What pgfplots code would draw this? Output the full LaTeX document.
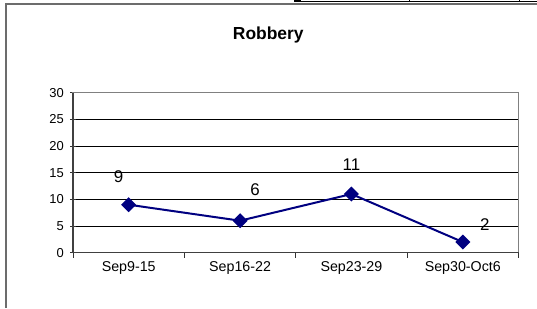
\documentclass[border=0pt]{standalone}
\usepackage{fontspec}
\setmainfont{Liberation Sans}
\usepackage{pgfplots}
\usepackage{pgfplotstable}
\pgfplotsset{compat=1.18}
\definecolor{navy}{RGB}{0,0,128}
\pgfplotstableread{
x y dx dy
0 9 -10 28
1 6 15 31
2 11 0 29
3 2 22 17
}\robbery
\begin{document}
\begin{tikzpicture}[x=1bp,y=1bp]
\useasboundingbox (0,0) rectangle (537,308);
% outer frame
\draw[gray!85!black, line width=2bp] (5.5,0) -- (5.5,304) -- (537,304);
% table fragment at the top
\fill[black] (294,306) rectangle (300.7,308);
\draw[black, line width=0.8bp] (294,306.6) -- (537,306.6);
\draw[black, line width=0.6bp] (409.3,306) -- (409.3,308) (519.3,306) -- (519.3,308);
\node[font=\bfseries\fontsize{17.5}{20}\selectfont] at (268.3,273) {Robbery};
\begin{axis}[
  at={(73bp,55.3bp)}, anchor=south west, scale only axis,
  width=445.5bp, height=160bp,
  xmin=-0.5, xmax=3.5, ymin=0, ymax=30,
  xtick={0,1,2,3},
  xticklabels={Sep9-15,Sep16-22,Sep23-29,Sep30-Oct6},
  major x tick style={draw=none},
  minor xtick={-0.5,0.5,1.5,2.5,3.5},
  ytick={0,5,...,30},
  xtick pos=bottom, ytick pos=left,
  ymajorgrids,
  grid style={black, line width=0.6bp},
  tick align=center,
  major tick length=5.5bp, minor tick length=5bp,
  minor x tick style={yshift=-2.5bp, black!80, line width=1bp},
  major y tick style={black!80, line width=1bp},
  axis line style={draw=gray, line width=1.3bp},
  /pgf/number format/assume math mode=true,
  xticklabel style={yshift=-3bp, font=\fontsize{14.3}{16}\selectfont},
  yticklabel style={xshift=-3bp, font=\fontsize{13}{15}\selectfont},
  clip=false,
]
\addplot[navy, line width=2bp, mark=square*, mark size=4.3bp,
  mark options={rotate=45, solid, fill=navy},
  nodes near coords,
  point meta=explicit symbolic,
  visualization depends on={\thisrow{dx} \as \dx},
  visualization depends on={\thisrow{dy} \as \dy},
  every node near coord/.append style={anchor=center, xshift=\dx bp, yshift=\dy bp,
     font=\fontsize{17}{19}\selectfont, text=black},
] table[x=x, y=y, meta=y] {\robbery};
\draw[black!75, line width=1.5bp] (rel axis cs:0,1) -- (rel axis cs:0,0) -- (rel axis cs:1,0);
\end{axis}
\end{tikzpicture}
\end{document}
